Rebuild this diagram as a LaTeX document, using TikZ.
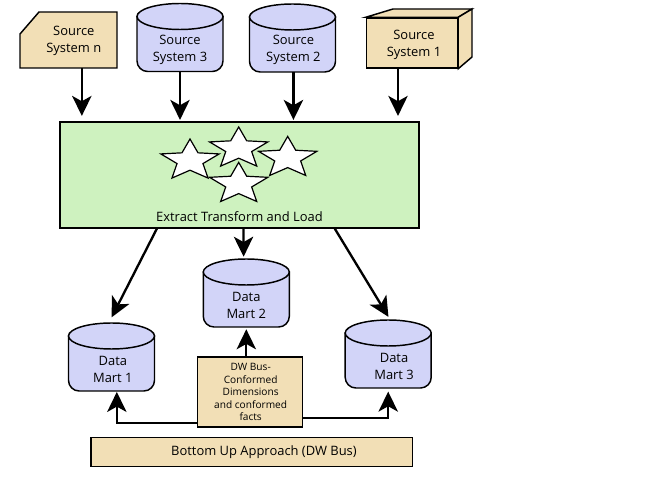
\documentclass[tikz,border=0pt]{standalone}
\usepackage{fontspec}
\setmainfont{Open Sans}
\usetikzlibrary{arrows.meta,shapes.geometric}

\definecolor{srctan}{HTML}{F2DFB6}
\definecolor{storeblue}{HTML}{D2D4F8}
\definecolor{etlgreen}{HTML}{CEF2BF}

% name, centre x, top y, text, text shift
\newcommand{\datastore}[5]{
    \begin{scope}[shift={(#2,#3)}]
        \draw[storeline] (-43,13) [rounded corners=8pt] -- (-43,68) -- (43,68) [sharp corners] -- (43,13) -- cycle;
        \draw[storeline] (0,13) ellipse [x radius=32.25pt,y radius=9.75pt];
        \node[storebox,label={[xshift=#5,yshift=-9.2pt]center:{#4}}] (#1) at (0,34) {};
    \end{scope}
}

\begin{document}
\begin{tikzpicture}[x=.75pt,y=-.75pt,
        every label/.style={align=center,inner sep=0pt,font=\fontsize{9.7}{12.75}\selectfont},
        storeline/.style={draw=black,line width=1.1pt,fill=storeblue},
        storebox/.style={rectangle,minimum width=64.5pt,minimum height=51pt,inner sep=0pt},
        srcline/.style={draw=black,line width=1.1pt,fill=srctan},
        srcbox/.style={rectangle,inner sep=0pt},
        etlbox/.style={rectangle,draw=black,line width=1.1pt,fill=etlgreen,minimum width=269.25pt,minimum height=79.5pt},
        etlstar/.style={star,star points=5,star point ratio=2.25,draw=black,line width=.9pt,fill=white,
            minimum size=32.4pt,inner sep=0pt,xscale=1.42,transform shape},
        busbox/.style={rectangle,draw=black,line width=1.1pt,fill=srctan,inner sep=0pt},
        flow/.style={draw=black,line width=1.75pt,-{Stealth[length=15pt,width=14.5pt,inset=4pt]}}]

        \useasboundingbox (0,0) rectangle (669,477);

        % sources
        \draw[srcline] (20,34) -- (39,12) -- (117,12) -- (117,68) -- (20,68) -- cycle;
        \node[srcbox,minimum width=72.75pt,minimum height=42pt,
            label={[xshift=4pt,yshift=-1pt]center:{Source\\System n}}] (srcn) at (68.5,40) {};
        \datastore{src3}{180}{3.5}{Source\\System 3}{0pt}
        \datastore{src2}{292.5}{4}{Source\\System 2}{.7pt}
        \node[srcbox,draw=black,line width=1.1pt,fill=srctan,minimum width=68.25pt,minimum height=37.5pt,
            label={[xshift=1.5pt,yshift=-1.7pt]center:{Source\\System 1}}] (src1) at (412,43) {};
        \draw[srcline] (src1.north west) -- (393,9) -- (472,9) -- (src1.north east) -- cycle;
        \draw[srcline] (src1.north east) -- (472,9) -- (472,57) -- (src1.south east) -- cycle;

        % etl
        \node[etlbox,label={[yshift=-31.2pt]center:{Extract Transform and Load}}] (etl) at (239.5,175) {};
        \node[etlstar] (star1) at (190,160.6) {};
        \node[etlstar] (star2) at (238.7,148.6) {};
        \node[etlstar] (star3) at (287.7,158) {};
        \node[etlstar] (star4) at (238.7,184) {};

        % marts
        \datastore{mart1}{111.5}{323}{Data\\Mart 1}{1pt}
        \datastore{mart2}{246.3}{259}{Data\\Mart 2}{0pt}
        \datastore{mart3}{388.2}{320}{Data\\Mart 3}{4.4pt}

        \node[busbox,minimum width=78.5pt,minimum height=52.25pt,
            label={[font=\fontsize{7.6}{9.4}\selectfont,xshift=.5pt,yshift=-.2pt]center:{DW Bus-\\Conformed\\Dimensions\\and conformed\\facts}}] (dwbus) at (250,392) {};
        \node[busbox,minimum width=241pt,minimum height=21.75pt,
            label={[xshift=9.2pt]center:{Bottom Up Approach (DW Bus)}}] (bottomup) at (251.7,452) {};

        % arrows
        \draw[flow,shorten >=4pt] ([xshift=10pt]srcn.south) -- ([xshift=10pt]srcn.south |- etl.north);
        \draw[flow,shorten >=1pt] (src3.south) -- (src3.south |- etl.north);
        \draw[flow,shorten >=1pt] ([xshift=.7pt]src2.south) -- ([xshift=.7pt]src2.south |- etl.north);
        \draw[flow,shorten >=4pt] ([xshift=-10.5pt]src1.south) -- ([xshift=-10.5pt]src1.south |- etl.north);

        \draw[flow,shorten >=4.5pt] ([xshift=-62pt]etl.south) -- ([xshift=-2pt]mart1.north);
        \draw[flow,shorten >=1.5pt] ([xshift=3pt]etl.south) -- ([xshift=-2pt]mart2.north);
        \draw[flow,shorten >=2.5pt] ([xshift=71.5pt]etl.south) -- ([xshift=1.5pt]mart3.north);

        \draw[flow,shorten >=1.5pt] (dwbus.north -| mart2.south) -- (mart2.south);
        \draw[flow,shorten >=.5pt] ([yshift=3.5pt]dwbus.south west) -| ([xshift=4pt]mart1.south);
        \draw[flow,shorten >=2.5pt] ([yshift=7pt]dwbus.south east) -| (mart3.south);
    \end{tikzpicture}
\end{document}
